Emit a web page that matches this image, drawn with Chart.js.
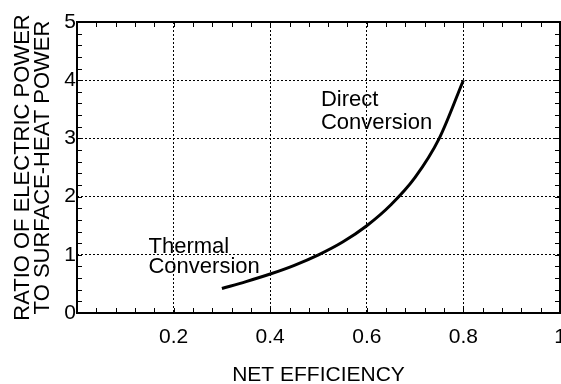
<!DOCTYPE html>
<html>
<head>
<meta charset="utf-8">
<script src="https://cdn.jsdelivr.net/npm/chart.js@4/dist/chart.umd.min.js"></script>
<style>
  html, body { margin: 0; padding: 0; background: #fff; }
  #wrap { width: 561px; height: 384px; }
</style>
</head>
<body>
<div id="wrap"><canvas id="ratioChart" width="561" height="384"></canvas></div>
<script>
// values
const efficiency = [0.3, 0.35, 0.4, 0.45, 0.5, 0.55, 0.6, 0.65, 0.7, 0.75, 0.8];
const powerRatio = [0.42, 0.54, 0.67, 0.82, 1.0, 1.22, 1.5, 1.86, 2.33, 3.0, 4.0];
const xTicks = [0.2, 0.4, 0.6, 0.8, 1];
const yTicks = [0, 1, 2, 3, 4, 5];
const notes = [
  { text: "Direct", x: 0.505, y: 3.55 },
  { text: "Conversion", x: 0.505, y: 3.17 },
  { text: "Thermal", x: 0.148, y: 1.03 },
  { text: "Conversion", x: 0.148, y: 0.68 },
];

const FONT = "'Liberation Sans', Arial, Helvetica, sans-serif";

// box frame, inward ticks and the text notes
const framePlugin = {
  id: "frame",
  afterDraw(chart) {
    const { ctx, chartArea: a, scales } = chart;
    const xs = scales.x, ys = scales.y;
    ctx.save();
    ctx.strokeStyle = "#000";
    ctx.lineWidth = 1;
    ctx.beginPath();
    for (let i = 1; i < 25; i++) {
      const px = Math.round(xs.getPixelForValue(i * 0.04)) + 0.5;
      ctx.moveTo(px, a.bottom); ctx.lineTo(px, a.bottom - 5);
      ctx.moveTo(px, a.top); ctx.lineTo(px, a.top + 5);
    }
    for (let i = 1; i < 25; i++) {
      const py = Math.round(ys.getPixelForValue(i * 0.2)) + 0.5;
      ctx.moveTo(a.left, py); ctx.lineTo(a.left + 5, py);
      ctx.moveTo(a.right, py); ctx.lineTo(a.right - 5, py);
    }
    ctx.stroke();
    ctx.lineWidth = 2;
    ctx.strokeRect(a.left, a.top, a.right - a.left, a.bottom - a.top);

    ctx.fillStyle = "#000";
    ctx.font = "22px " + FONT;
    ctx.textAlign = "left";
    ctx.textBaseline = "alphabetic";
    notes.forEach(n => {
      ctx.fillText(n.text, xs.getPixelForValue(n.x), ys.getPixelForValue(n.y));
    });
    ctx.restore();
  }
};

new Chart(document.getElementById("ratioChart"), {
  type: "line",
  data: {
    datasets: [{
      data: efficiency.map((x, i) => ({ x: x, y: powerRatio[i] })),
      borderColor: "#000",
      borderWidth: 3,
      pointRadius: 0,
      fill: false,
      cubicInterpolationMode: "monotone",
    }],
  },
  options: {
    responsive: false,
    animation: false,
    layout: { padding: { top: 22, right: 1, left: 0, bottom: 0 } },
    plugins: { legend: { display: false }, tooltip: { enabled: false } },
    scales: {
      x: {
        type: "linear",
        min: 0, max: 1,
        afterFit(s) { s.height = 71; s.paddingRight = 0; s.paddingLeft = 0; },
        afterBuildTicks(s) { s.ticks = xTicks.map(v => ({ value: v })); },
        grid: { color: "#000", lineWidth: 1, drawTicks: false },
        border: { display: false, dash: [2, 2] },
        ticks: {
          color: "#000", padding: 12,
          font: { family: FONT, size: 21 },
          callback: v => (v === 1 ? "1" : v.toFixed(1)),
        },
        title: {
          display: true, text: "NET EFFICIENCY", color: "#000",
          font: { family: FONT, size: 21, lineHeight: 0.8 },
          padding: 0,
        },
      },
      y: {
        min: 0, max: 5,
        afterFit(s) { s.width = 77; },
        afterBuildTicks(s) { s.ticks = yTicks.map(v => ({ value: v })); },
        grid: { color: "#000", lineWidth: 1, drawTicks: false },
        border: { display: false, dash: [2, 2] },
        ticks: {
          color: "#000", padding: 1,
          font: { family: FONT, size: 21 },
        },
        title: {
          display: true,
          text: ["RATIO OF ELECTRIC POWER", "TO SURFACE-HEAT POWER"],
          color: "#000",
          font: { family: FONT, size: 22, lineHeight: 0.91 },
          padding: 13,
        },
      },
    },
  },
  plugins: [framePlugin],
});
</script>
</body>
</html>
